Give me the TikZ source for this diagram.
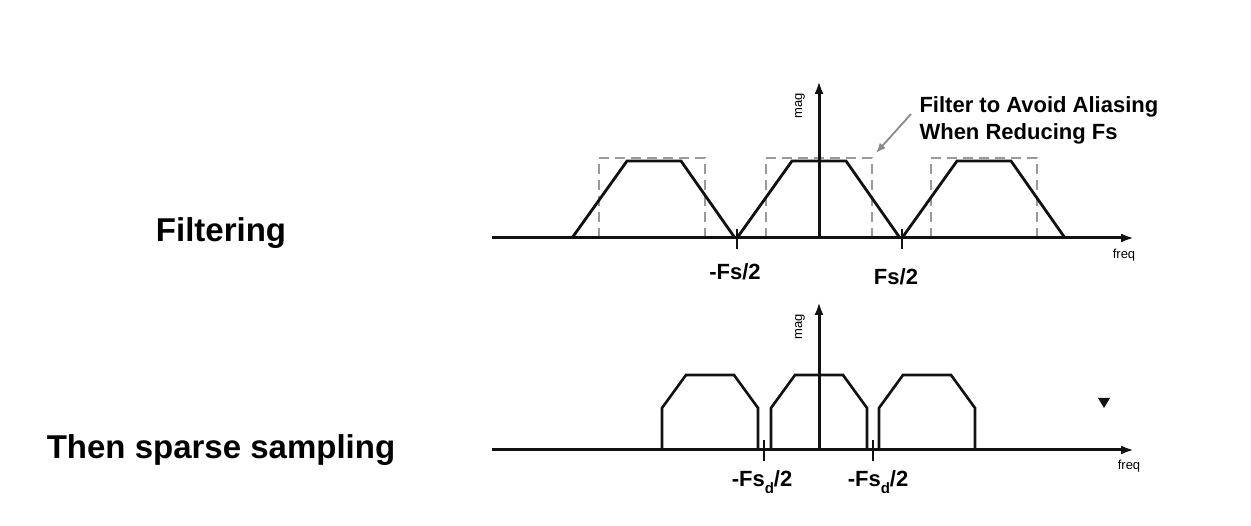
\documentclass[tikz,border=0pt]{standalone}
\usepackage{fontspec}
\setmainfont{Liberation Sans}
\usetikzlibrary{arrows.meta}
\definecolor{boxgray}{HTML}{9A9A9A}
\definecolor{arrgray}{HTML}{8A8A8A}
\definecolor{ink}{HTML}{111111}
\begin{document}
\begin{tikzpicture}[x=1pt,y=-1pt,
  axisline/.style={ink,line width=3pt,-{Latex[length=13pt,width=9pt]}},
  trapline/.style={ink,line width=2.8pt,line join=miter},
  trapthin/.style={ink,line width=2.6pt,line join=miter},
  dbox/.style={boxgray,line width=2.4pt,dash pattern=on 10pt off 6pt},
  tickline/.style={ink,line width=2.8pt},
  biglabel/.style={font=\bfseries\fontsize{33}{40}\selectfont},
  ticklabel/.style={font=\bfseries\fontsize{22}{26}\selectfont},
  tinylabel/.style={font=\fontsize{13}{14}\selectfont},
]
\useasboundingbox (0,0) rectangle (1251,526);

% ---------- top plot ----------
\foreach \c in {652,819,984}{
  \draw[dbox] (\c-53,238) -- (\c-53,158) -- (\c+53,158) -- (\c+53,238);
}
\foreach \c in {654,819,984}{
  \draw[trapline] (\c-82,238) -- (\c-27,161) -- (\c+27,161) -- (\c+81,238);
}
\coordinate (hA0) at (492,238);
\coordinate (hA1) at (1134,238);
\coordinate (vA0) at (819,238);
\coordinate (vA1) at (819,81);
\draw[axisline] (hA0) -- (hA1);
\draw[axisline] (vA0) -- (vA1);
\coordinate (t1a) at (737,229); \coordinate (t1b) at (737,249);
\coordinate (t2a) at (902,229); \coordinate (t2b) at (902,249);
\draw[tickline] (t1a) -- (t1b);
\draw[tickline] (t2a) -- (t2b);
\node[ticklabel] (mfs) at (735,272) {-Fs/2};
\node[ticklabel] (pfs) at (896,277) {Fs/2};
\node[tinylabel,rotate=90] (mag1) at (800,106) {mag};
\node[tinylabel] (freq1) at (1124,255) {freq};

\node[anchor=west,align=left,font=\bfseries\fontsize{22}{27}\selectfont] (ann) at (916,120)
  {Filter to Avoid Aliasing\\When Reducing Fs};
\coordinate (arrS) at (911,114);
\coordinate (arrE) at (876,153);
\draw[arrgray,line width=1.8pt,-{Latex[length=10pt,width=8pt]}] (arrS) -- (arrE);

% ---------- bottom plot ----------
\foreach \c in {710,819,927}{
  \draw[trapthin] (\c-48,450) -- (\c-48,408) -- (\c-24,375) -- (\c+24,375) -- (\c+48,408) -- (\c+48,450);
}
\coordinate (hB0) at (492,450);
\coordinate (hB1) at (1134,450);
\coordinate (vB0) at (819,450);
\coordinate (vB1) at (819,302);
\draw[axisline] (hB0) -- (hB1);
\draw[axisline] (vB0) -- (vB1);
\coordinate (t3a) at (764,440); \coordinate (t3b) at (764,461);
\coordinate (t4a) at (873,440); \coordinate (t4b) at (873,461);
\draw[tickline] (t3a) -- (t3b);
\draw[tickline] (t4a) -- (t4b);
\node[ticklabel] (mfsd1) at (762,482) {-Fs\raisebox{-0.3em}{\fontsize{15}{15}\selectfont d}/2};
\node[ticklabel] (mfsd2) at (878,482) {-Fs\raisebox{-0.3em}{\fontsize{15}{15}\selectfont d}/2};
\node[tinylabel,rotate=90] (mag2) at (800,327) {mag};
\node[tinylabel] (freq2) at (1129,466) {freq};

\fill[ink] (1098,398) -- (1110,398) -- (1104,408) -- cycle;

% ---------- left labels ----------
\node[biglabel] (filt) at (221,233) {Filtering};
\node[biglabel] (then) at (221,450) {Then sparse sampling};
\end{tikzpicture}
\end{document}
